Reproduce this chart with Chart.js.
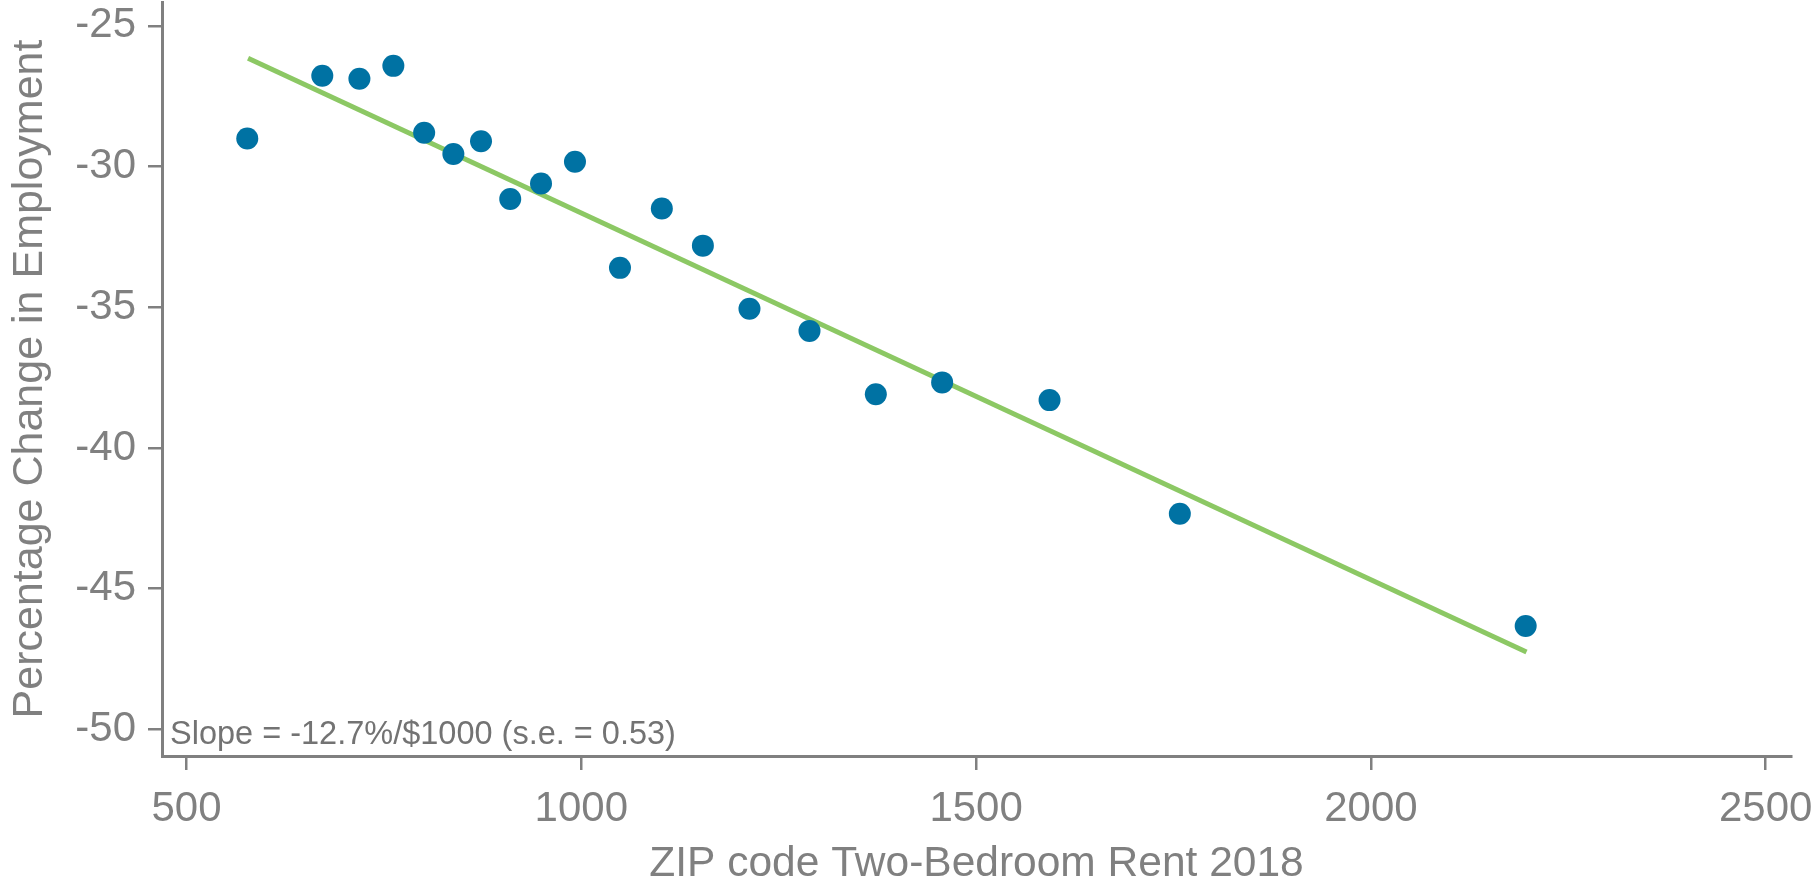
<!DOCTYPE html>
<html>
<head>
<meta charset="utf-8">
<script src="https://cdn.jsdelivr.net/npm/chart.js@4"></script>
<style>
  html, body { margin: 0; padding: 0; background: #fff; }
  #wrap { width: 1814px; height: 880px; }
</style>
</head>
<body>
<div id="wrap"><canvas id="myChart" width="1814" height="880"></canvas></div>
<script>
// rent (x) and employment change (y) per ZIP bin
const rent = [577, 672, 719, 762, 801, 838, 873, 910, 949, 992,
              1049, 1102, 1154, 1213, 1289, 1373, 1457, 1593, 1758, 2196];
const empChange = [-29.0, -26.77, -26.88, -26.42, -28.8, -29.55, -29.1, -31.15, -30.6, -29.83,
                   -33.6, -31.49, -32.81, -35.05, -35.84, -38.09, -37.67, -38.3, -42.34, -46.33];
// fitted line end points
const fitX = [578, 2197];
const fitY = [-26.15, -47.25];

const xTicks = [500, 1000, 1500, 2000, 2500];
const yTicks = [-50, -45, -40, -35, -30, -25];
const slopeNote = "Slope = -12.7%/$1000 (s.e. = 0.53)";

const grey = "#808080";
const font = "'Liberation Sans', Arial, Helvetica, sans-serif";

const notePlugin = {
  id: "slopeNote",
  afterDatasetsDraw(chart) {
    const { ctx, chartArea } = chart;
    ctx.save();
    ctx.font = "32.5px " + font;
    ctx.fillStyle = "#737373";
    ctx.textBaseline = "alphabetic";
    ctx.fillText(slopeNote, chartArea.left + 8, chartArea.bottom - 12);
    ctx.restore();
  },
};

const ctx = document.getElementById("myChart").getContext("2d");
new Chart(ctx, {
  type: "scatter",
  data: {
    datasets: [
      {
        label: "ZIP codes",
        data: rent.map((r, i) => ({ x: r, y: empChange[i] })),
        backgroundColor: "#0072a3",
        borderColor: "#0072a3",
        borderWidth: 0,
        pointRadius: 11,
      },
      {
        type: "line",
        label: "Fit",
        data: fitX.map((r, i) => ({ x: r, y: fitY[i] })),
        borderColor: "#8cc864",
        borderWidth: 5,
        pointRadius: 0,
        fill: false,
      },
    ],
  },
  options: {
    responsive: false,
    animation: false,
    events: [],
    layout: { autoPadding: false, padding: { top: 2, right: 23, left: 0, bottom: 0 } },
    plugins: { legend: { display: false }, tooltip: { enabled: false } },
    scales: {
      x: {
        type: "linear",
        min: 469,
        max: 2532,
        afterFit: (s) => {
          s.height = 124;
          s.paddingLeft = 0;
          s.paddingRight = 0;
        },
        afterBuildTicks: (s) => { s.ticks = xTicks.map((v) => ({ value: v })); },
        border: { display: true, color: grey, width: 3 },
        grid: { drawOnChartArea: false, drawTicks: true, tickLength: 14, color: grey, lineWidth: 2.5 },
        ticks: { color: grey, font: { family: font, size: 42 }, padding: 14, maxRotation: 0, callback: (v) => String(v) },
        title: {
          display: true,
          text: "ZIP code Two-Bedroom Rent 2018",
          color: grey,
          font: { family: font, size: 42.5, lineHeight: 1 },
          padding: { top: 0, bottom: -6 },
        },
      },
      y: {
        min: -50.95,
        max: -24.15,
        afterFit: (s) => {
          s.width = 162;
          s.paddingTop = 0;
          s.paddingBottom = 0;
        },
        afterBuildTicks: (s) => { s.ticks = yTicks.map((v) => ({ value: v })); },
        border: { display: true, color: grey, width: 3 },
        grid: { drawOnChartArea: false, drawTicks: true, tickLength: 14, color: grey, lineWidth: 2.5 },
        ticks: { color: grey, font: { family: font, size: 42 }, padding: 12, callback: (v) => String(v) },
        title: {
          display: true,
          text: "Percentage Change in Employment",
          color: grey,
          font: { family: font, size: 43, lineHeight: 1 },
          padding: { top: 9, bottom: 0 },
        },
      },
    },
  },
  plugins: [notePlugin],
});
</script>
</body>
</html>
